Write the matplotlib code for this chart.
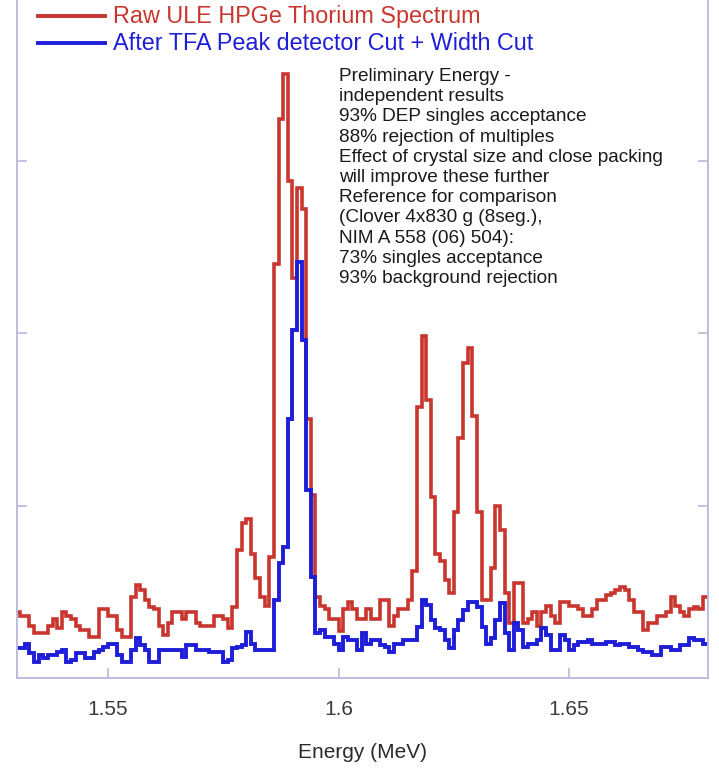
import numpy as np
import matplotlib
matplotlib.use("Agg")
import matplotlib.pyplot as plt
from matplotlib.lines import Line2D

plt.rcParams['font.family'] = ['Liberation Sans', 'DejaVu Sans']

# ---- data ----
bin_start = 1.530
bin_width = 0.001
raw_counts = [19, 18, 18, 15, 13, 13, 13, 15, 17, 14.5,
              19, 18, 17, 15, 14, 14, 12, 12, 20, 20,
              18, 18, 14, 12, 12, 23.5, 27, 25.5, 22.5, 20.5,
              20, 15, 12.5, 16, 19, 19, 17, 19, 19, 16,
              15, 15, 15, 18, 18, 17, 14.5, 20.5, 37, 45,
              46, 36, 29, 23.5, 21, 35, 120, 162, 175, 144,
              116, 142, 136, 75, 53, 23.5, 21, 20, 17, 17,
              13.5, 20, 22, 20, 17, 17, 20, 17, 17, 22.5,
              22.5, 15, 18, 20, 20, 22.5, 31, 78.5, 99, 80.5,
              52.5, 36, 34, 28.5, 24.5, 48, 69.5, 91.3, 95.7, 76,
              48, 22.5, 22.5, 32, 50, 43, 24.5, 16, 27.5, 27.5,
              16, 17, 19, 15, 19, 21, 18, 16, 22, 22,
              21, 21, 20, 18, 18, 20, 22.5, 22.5, 24, 24.5,
              25.5, 26.5, 25.5, 22.5, 19, 19, 14, 16, 16, 18,
              18, 19, 23.5, 21, 19, 18, 20, 20.5, 20, 23.5]
cut_counts = [8.7, 8.7, 10, 7.2, 4.6, 6.7, 5.8, 6.7, 6.7, 7.5,
              8, 4.6, 5.2, 7.2, 7.2, 5.8, 5.8, 7.5, 8, 9,
              10, 10, 6.7, 4.6, 4.6, 8, 11.6, 9.6, 8, 4.6,
              4.6, 8, 8, 8, 8, 8, 6, 9.6, 9.6, 8,
              8, 8, 7.5, 7.5, 7.5, 4.6, 5.2, 8.7, 9, 9.6,
              13.3, 10, 8, 8, 8, 8, 22.6, 33.3, 38, 75,
              101, 120.6, 98, 54.5, 29.3, 13, 14, 12, 12, 10,
              8, 12, 11, 11, 8, 13, 10, 11, 11, 9.6,
              9, 7.5, 10, 10, 11, 11, 11, 14.8, 22.6, 21.2,
              16.8, 14.5, 14, 11, 8.7, 14, 16.8, 19.7, 22, 22,
              20.6, 14.8, 10, 11.6, 16.8, 21.7, 13, 8, 16, 14,
              9, 10, 10, 11, 14.5, 12.5, 8, 8, 12.5, 11,
              8, 9.6, 10.4, 10.4, 11, 10, 10, 10, 10.4, 10.4,
              9.6, 10, 10, 9, 9, 8, 7.5, 7.5, 6.7, 6.7,
              9, 9, 8, 8, 9.6, 9.6, 11.6, 11, 11, 10]
x_ticks = [1.55, 1.60, 1.65]
x_tick_labels = ["1.55", "1.6", "1.65"]
y_ticks = [50, 100, 150]
series_labels = ["Raw ULE HPGe Thorium Spectrum",
                 "After TFA Peak detector Cut + Width Cut"]
note_lines = ["Preliminary Energy -",
              "independent results",
              "93% DEP singles acceptance",
              "88% rejection of multiples",
              "Effect of crystal size and close packing",
              "will improve these further",
              "Reference for comparison",
              "(Clover 4x830 g (8seg.),",
              "NIM A 558 (06) 504):",
              "73% singles acceptance",
              "93% background rejection"]

RED = '#c8362e'
BLUE = '#1e1ed8'
SPINE = '#b8b8de'

W, H = 719, 768
fig = plt.figure(figsize=(W / 100, H / 100), dpi=100)
ax = fig.add_axes([17 / W, 90 / H, 691 / W, 690 / H])

edges = bin_start + bin_width * np.arange(len(raw_counts) + 1)
ax.stairs(raw_counts, edges, color=RED, linewidth=2.6, baseline=None)
ax.stairs(cut_counts, edges, color=BLUE, linewidth=2.8, baseline=None)

ax.set_xlim(1.5303, 1.6801)
ax.set_ylim(0, 200)
ax.set_xticks(x_ticks)
ax.set_xticklabels(x_tick_labels)
ax.set_yticks(y_ticks)
ax.set_yticklabels([])
ax.tick_params(axis='x', direction='in', length=7, width=1.2, color=SPINE,
               labelsize=15, labelcolor='#3a3a3a', pad=16)
ax.tick_params(axis='y', direction='in', length=7, width=1.2, color=SPINE,
               left=True, right=True)
for s in ax.spines.values():
    s.set_color(SPINE)
    s.set_linewidth(1.3)
ax.set_xlabel("Energy (MeV)", fontsize=15, color='#2a2a2a', labelpad=17)

# legend (drawn manually at top-left)
for k, (lab, col) in enumerate(zip(series_labels, [RED, BLUE])):
    yy = 1 - (16 + 27 * k) / H
    fig.add_artist(Line2D([38 / W, 105 / W], [yy, yy], color=col, linewidth=2.8,
                          transform=fig.transFigure))
    fig.text(113 / W, yy, lab, color=col, fontsize=16.8, va='center', ha='left')

# annotation text
for k, line in enumerate(note_lines):
    fig.text(339 / W, 1 - (81 + 20.2 * k) / H, line, fontsize=13.7,
             color='#1a1a1a', va='baseline', ha='left')

fig.savefig("out.png", dpi=100)
